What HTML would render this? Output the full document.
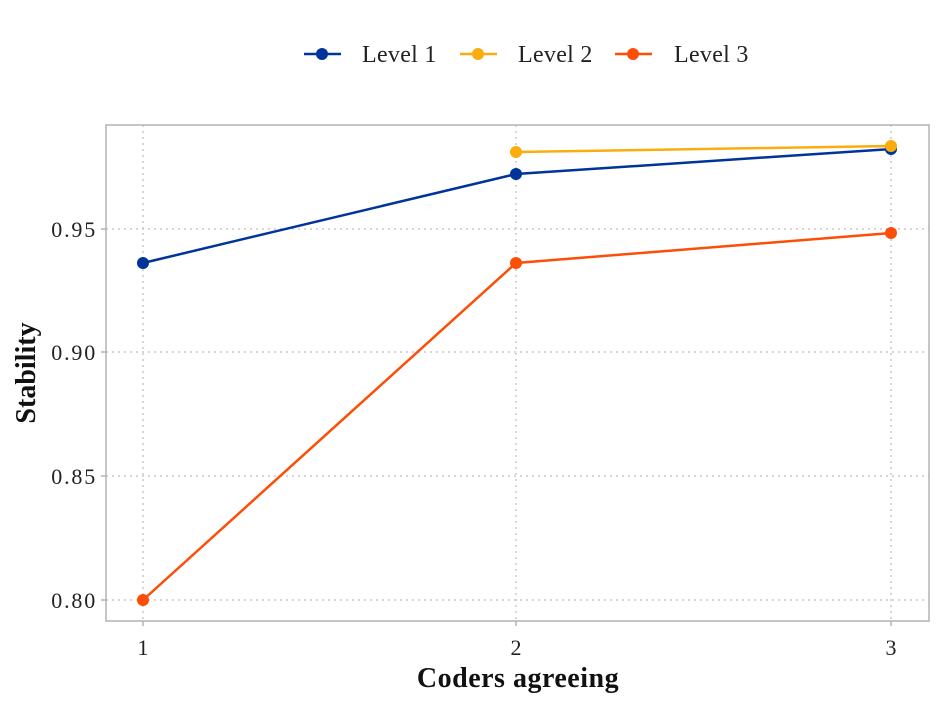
<!DOCTYPE html>
<html><head><meta charset="utf-8"><style>body{margin:0;background:#fff}svg{display:block}</style></head>
<body>
<svg width="945" height="709" xmlns="http://www.w3.org/2000/svg" font-family="'Liberation Serif', serif">
<rect width="945" height="709" fill="#fff"/>
<g stroke="#c8c8c8" stroke-width="1.5" stroke-dasharray="2,4">
<line x1="106" x2="929" y1="229" y2="229"/>
<line x1="106" x2="929" y1="352" y2="352"/>
<line x1="106" x2="929" y1="476" y2="476"/>
<line x1="106" x2="929" y1="600" y2="600"/>
<line x1="143" x2="143" y1="125" y2="621"/>
<line x1="516" x2="516" y1="125" y2="621"/>
<line x1="891" x2="891" y1="125" y2="621"/>
</g>
<rect x="106" y="125" width="823" height="496" fill="none" stroke="#b3b3b3" stroke-width="1.5"/>
<g stroke="#b3b3b3" stroke-width="1.5">
<line x1="101" x2="106" y1="229" y2="229"/><line x1="101" x2="106" y1="352" y2="352"/>
<line x1="101" x2="106" y1="476" y2="476"/><line x1="101" x2="106" y1="600" y2="600"/>
<line x1="143" x2="143" y1="621" y2="626"/><line x1="516" x2="516" y1="621" y2="626"/><line x1="891" x2="891" y1="621" y2="626"/>
</g>
<g font-size="22" fill="#222" text-anchor="end" letter-spacing="1.8">
<text x="97" y="237">0.95</text><text x="97" y="360">0.90</text>
<text x="97" y="484">0.85</text><text x="97" y="608">0.80</text>
</g>
<g font-size="22" fill="#222" text-anchor="middle">
<text x="143" y="655">1</text><text x="516" y="655">2</text><text x="891" y="655">3</text>
</g>
<text x="518" y="687" font-size="28" font-weight="bold" text-anchor="middle" fill="#111" letter-spacing="0.5">Coders agreeing</text>
<text transform="translate(35,373) rotate(-90)" font-size="28" font-weight="bold" text-anchor="middle" fill="#111">Stability</text>
<polyline points="143,263 516,174 891,149" fill="none" stroke="#00349a" stroke-width="2.5"/>
<polyline points="516,152 891,146" fill="none" stroke="#fbad0e" stroke-width="2.5"/>
<polyline points="143,600 516,263 891,233" fill="none" stroke="#fd4e07" stroke-width="2.5"/>
<g fill="#00349a"><circle cx="143" cy="263" r="6"/><circle cx="516" cy="174" r="6"/><circle cx="891" cy="149" r="6"/></g>
<g fill="#fbad0e"><circle cx="516" cy="152" r="6"/><circle cx="891" cy="146" r="6"/></g>
<g fill="#fd4e07"><circle cx="143" cy="600" r="6"/><circle cx="516" cy="263" r="6"/><circle cx="891" cy="233" r="6"/></g>
<g stroke-width="2.5">
<line x1="304" x2="341" y1="54" y2="54" stroke="#00349a"/><circle cx="322" cy="54" r="6" fill="#00349a"/>
<line x1="460" x2="497" y1="54" y2="54" stroke="#fbad0e"/><circle cx="478" cy="54" r="6" fill="#fbad0e"/>
<line x1="615" x2="652" y1="54" y2="54" stroke="#fd4e07"/><circle cx="633" cy="54" r="6" fill="#fd4e07"/>
</g>
<g font-size="24" fill="#222" letter-spacing="0.3">
<text x="362" y="62">Level 1</text><text x="518" y="62">Level 2</text><text x="674" y="62">Level 3</text>
</g>
</svg>
</body></html>
